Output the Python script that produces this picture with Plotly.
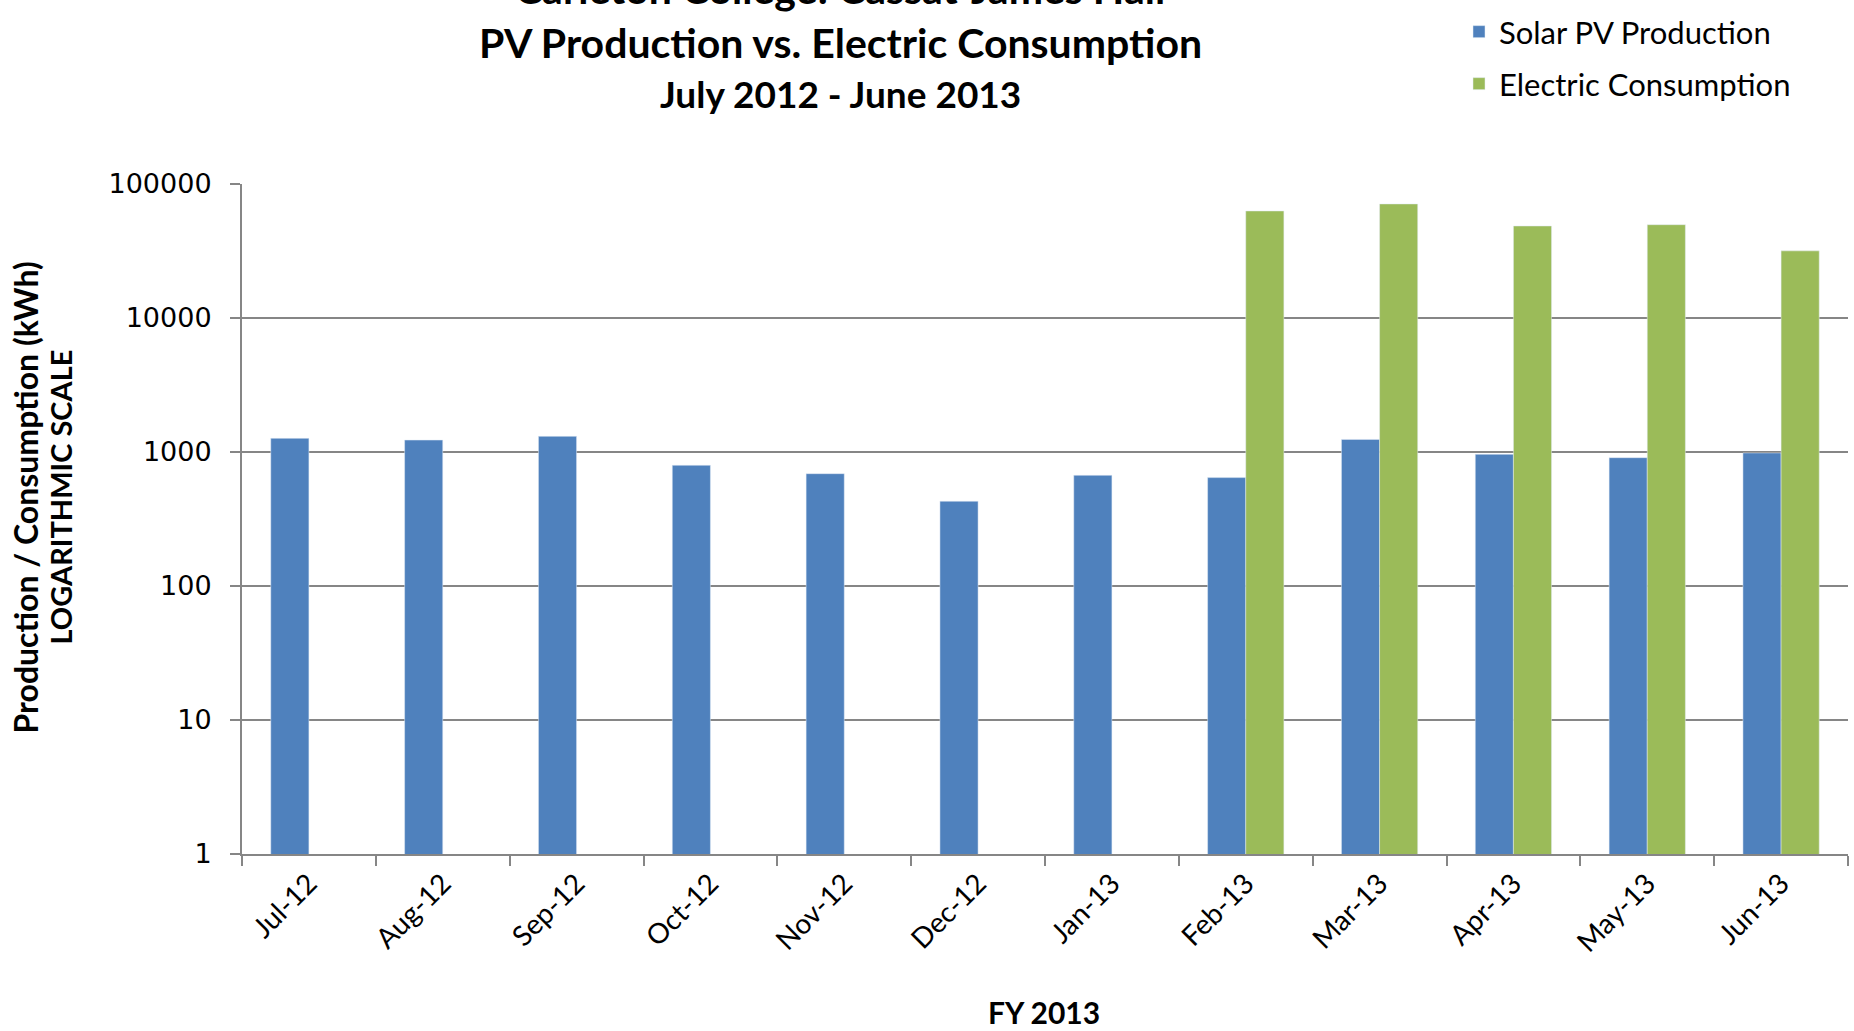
import plotly.graph_objects as go

months = ["Jul-12", "Aug-12", "Sep-12", "Oct-12", "Nov-12", "Dec-12",
          "Jan-13", "Feb-13", "Mar-13", "Apr-13", "May-13", "Jun-13"]
solar_pv = [1265, 1228, 1309, 796, 689, 429, 670, 644, 1242, 961, 907, 984]
electric = [None, None, None, None, None, None, None, 62900, 71000, 48600, 49700, 31700]
ytick_vals = [1, 10, 100, 1000, 10000, 100000]
ytick_text = ["1", "10", "100", "1000", "10000", "100000"]

title_lines = ["Carleton College: Cassat-James Hall",
               "PV Production vs. Electric Consumption",
               "July 2012 - June 2013"]
ytitle_lines = ["Production / Consumption (kWh)", "LOGARITHMIC SCALE"]
xtitle = "FY 2013"

BLUE = "#4F81BD"
GREEN = "#9BBB59"
GRID = "#868686"

fig = go.Figure()
fig.add_trace(go.Bar(x=months, y=solar_pv, name="Solar PV Production",
                     marker=dict(color=BLUE), legend="legend"))
fig.add_trace(go.Bar(x=months, y=electric, name="Electric Consumption",
                     marker=dict(color=GREEN), legend="legend2"))

W, H = 1854, 1031
L, R, T, B = 242, 6, 183, 177
ph = H - T - B
pw = W - L - R


def py(ypix):
    return (H - B - ypix) / ph


def px(xpix):
    return (xpix - L) / pw


annos = []
for txt, yc, sz in zip(title_lines, [-13, 41, 92], [41, 41, 37]):
    annos.append(dict(text=txt, x=px(840), y=py(yc), xref="paper", yref="paper",
                      xanchor="center", yanchor="middle", showarrow=False,
                      font=dict(family="Lato", size=sz, color="black", weight="bold")))
for txt, xc, sz in zip(ytitle_lines, [26, 61], [32, 29]):
    annos.append(dict(text=txt, x=px(xc), y=py(497), xref="paper", yref="paper",
                      xanchor="center", yanchor="middle", showarrow=False, textangle=-90,
                      font=dict(family="Lato", size=sz, color="black", weight="bold")))
annos.append(dict(text=xtitle, x=px(1044), y=py(1012), xref="paper", yref="paper",
                  xanchor="center", yanchor="middle", showarrow=False,
                  font=dict(family="Lato", size=30, color="black", weight="bold")))

leg_common = dict(xanchor="left", yanchor="middle",
                  font=dict(family="Lato", size=31, color="black"),
                  bgcolor="rgba(0,0,0,0)", borderwidth=0)

fig.update_layout(
    width=W, height=H,
    margin=dict(l=L, r=R, t=T, b=B, pad=0),
    paper_bgcolor="white", plot_bgcolor="white",
    barmode="group", bargap=0.43, bargroupgap=0,
    annotations=annos,
    showlegend=True,
    legend=dict(x=px(1459), y=py(32), **leg_common),
    legend2=dict(x=px(1459), y=py(84), **leg_common),
    xaxis=dict(
        type="category", tickson="boundaries", ticks="outside", ticklen=10,
        tickcolor=GRID, tickwidth=2, showline=True, linecolor=GRID, linewidth=2,
        tickangle=-45, tickfont=dict(family="Lato", size=28, color="black"),
        showgrid=False,
    ),
    yaxis=dict(
        type="log", range=[0, 5], tickvals=ytick_vals, ticktext=ytick_text,
        ticks="outside", ticklen=10, tickcolor=GRID, tickwidth=2,
        showline=True, linecolor=GRID, linewidth=2,
        showgrid=True, gridcolor=GRID, gridwidth=2,
        tickfont=dict(family="DejaVu Sans", size=27, color="black"),
        ticklabelstandoff=13,
        zeroline=False,
    ),
)

fig.write_html("out.html", config={"displayModeBar": False},
               post_script="document.body.style.margin='0';")
